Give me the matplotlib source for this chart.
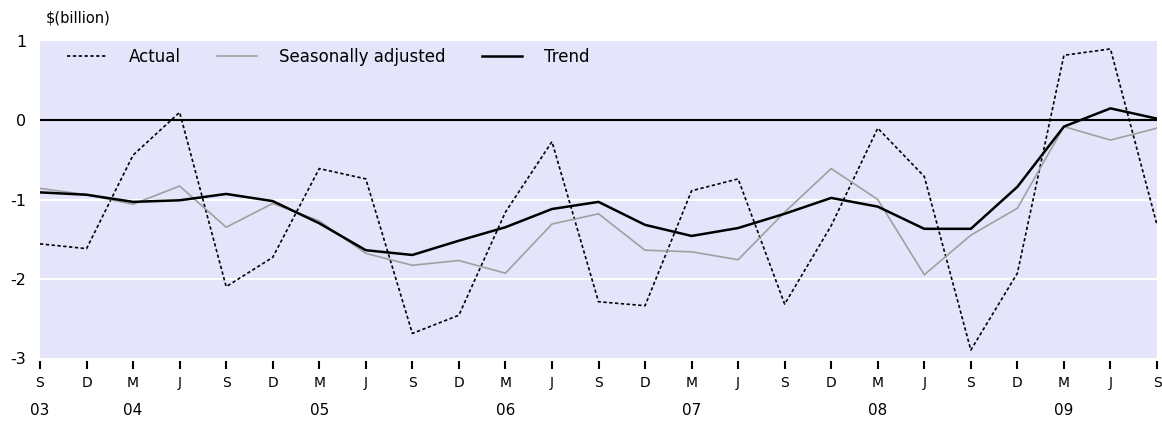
import matplotlib.pyplot as plt
import numpy as np

# quarterly labels, Sep 2003 to Sep 2009
months = ['S', 'D', 'M', 'J'] * 6 + ['S']
years = ['03', '04', '05', '06', '07', '08', '09']
year_pos = [0, 2, 6, 10, 14, 18, 22]

actual = [-1.56, -1.62, -0.44, 0.10, -2.10, -1.73, -0.61, -0.74, -2.69, -2.46,
          -1.16, -0.27, -2.29, -2.34, -0.89, -0.74, -2.32, -1.33, -0.10, -0.71,
          -2.90, -1.93, 0.82, 0.90, -1.32]
seas_adj = [-0.86, -0.94, -1.06, -0.83, -1.35, -1.05, -1.27, -1.68, -1.83, -1.77,
            -1.93, -1.31, -1.18, -1.64, -1.66, -1.76, -1.16, -0.61, -1.00, -1.95,
            -1.45, -1.11, -0.08, -0.25, -0.10]
trend = [-0.91, -0.94, -1.03, -1.01, -0.93, -1.02, -1.30, -1.64, -1.70, -1.52,
         -1.35, -1.12, -1.03, -1.32, -1.46, -1.36, -1.18, -0.98, -1.09, -1.37,
         -1.37, -0.84, -0.08, 0.15, 0.02]

x = np.arange(len(months))

plt.rcParams['font.family'] = ['DejaVu Sans']

fig = plt.figure(figsize=(11.62, 4.21), dpi=100)
ax = fig.add_axes([40 / 1162, 1 - 358 / 421, 1117 / 1162, 317 / 421])
ax.set_facecolor('#e4e4fa')

# gridlines and zero line
for yv in [-1, -2]:
    ax.axhline(yv, color='white', linewidth=1.5, zorder=1)
ax.axhline(0, color='black', linewidth=1.5, zorder=2)

ax.plot(x, actual, color='black', linestyle=(0, (2, 1.5)), linewidth=1.2,
        label='Actual', zorder=3)
ax.plot(x, seas_adj, color='#a0a0a0', linewidth=1.2,
        label='Seasonally adjusted', zorder=3)
ax.plot(x, trend, color='black', linewidth=1.8, label='Trend', zorder=4)

ax.set_xlim(0, len(months) - 1)
ax.set_ylim(-3, 1)
ax.set_yticks([1, 0, -1, -2, -3])
ax.set_yticklabels(['1', '0', '-1', '-2', '-3'], fontsize=11.5)
ax.set_xticks(x)
ax.set_xticklabels(months, fontsize=11)
ax.tick_params(axis='y', length=0, pad=10)
ax.tick_params(axis='x', direction='out', length=6, width=1.5, pad=5)

for s in ax.spines.values():
    s.set_visible(False)
ax.spines['bottom'].set_position(('outward', 2))

for lab, p in zip(years, year_pos):
    ax.annotate(lab, xy=(x[p], 0), xycoords=('data', 'axes fraction'),
                xytext=(0, -38), textcoords='offset points',
                ha='center', va='center', fontsize=11)

ax.text(0.005, 1.073, '$(billion)', transform=ax.transAxes, fontsize=10.5,
        ha='left', va='center')

ax.legend(loc='upper left', ncol=3, frameon=False, fontsize=12,
          handlelength=2.4, handletextpad=1.3, columnspacing=2.2,
          bbox_to_anchor=(0.018, 1.0), borderaxespad=0)

plt.savefig('out.png', dpi=100)
